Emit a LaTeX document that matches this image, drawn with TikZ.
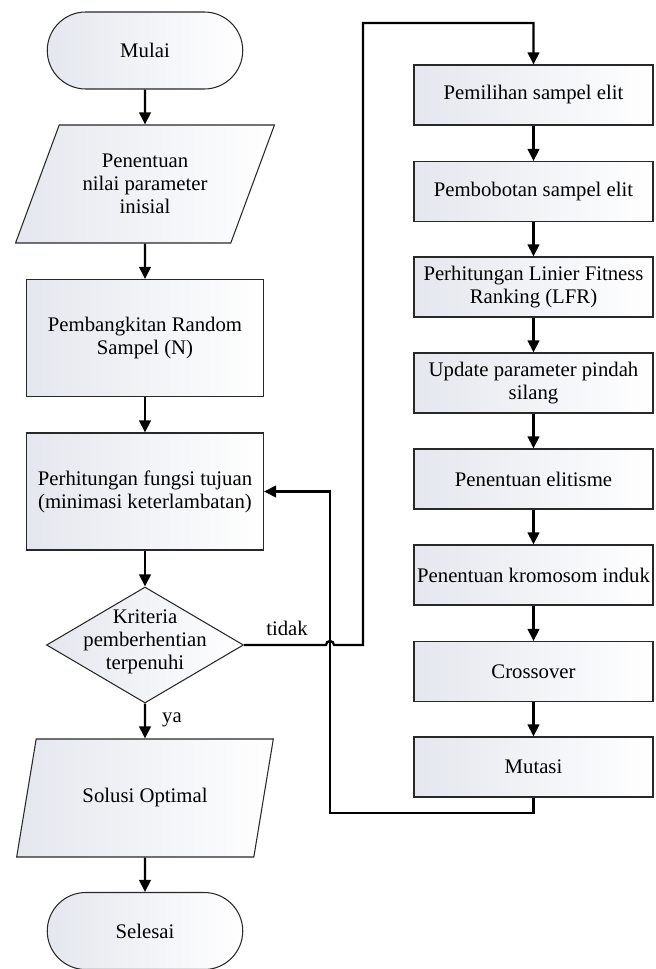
\documentclass[tikz,border=0pt]{standalone}
\usepackage{fontspec}
\setmainfont{Liberation Serif}
\usepackage{tikz}
\usetikzlibrary{arrows.meta,shapes.geometric,shapes.misc}
\definecolor{flowgray}{RGB}{228,231,238}
\definecolor{flowline}{RGB}{40,40,40}

\begin{document}
\begin{tikzpicture}[
  font=\fontsize{11.8pt}{13.1pt}\selectfont,
  proc/.style={draw=flowline, line width=0.6pt, left color=flowgray, right color=white, align=center, inner sep=1pt},
  term/.style={proc, rounded rectangle, minimum width=3.98cm, minimum height=1.54cm},
  io/.style={proc, trapezium, trapezium left angle=62.7, trapezium right angle=117.3, trapezium stretches=true, minimum width=5.18cm, minimum height=2.36cm},
  bigbox/.style={proc, rectangle, minimum width=4.74cm, minimum height=2.34cm},
  smallbox/.style={proc, rectangle, minimum width=4.78cm, minimum height=1.2cm},
  decide/.style={proc, diamond, minimum width=3.94cm, minimum height=2.32cm, inner sep=0pt},
  flow/.style={-{Triangle[length=2.4mm,width=2.3mm]}, line width=1.3pt}
  ]
  \useasboundingbox (0,0) rectangle (13.1,-19.38);

  % main column
  \node[term] (mulai) at (2.9,-1.01) {Mulai};
  \node[io] (init) at (2.9,-3.68) {Penentuan\\nilai parameter\\inisial};
  \node[bigbox] (bangkit) at (2.9,-6.76) {Pembangkitan Random\\Sampel (N)};
  \node[bigbox] (hitung) at (2.9,-9.83) {Perhitungan fungsi tujuan\\(minimasi keterlambatan)};
  \node[decide] (cek) at (2.9,-12.9) {\raisebox{-3pt}{\makebox[0pt]{\smash{\begin{tabular}[c]{@{}c@{}}Kriteria\\pemberhentian\\terpenuhi\end{tabular}}}}};
  \node[io] (solusi) at (2.9,-15.96) {Solusi Optimal};
  \node[term] (selesai) at (2.9,-18.62) {Selesai};

  % loop column
  \node[smallbox] (pilih) at (10.67,-1.9) {Pemilihan sampel elit};
  \node[smallbox] (bobot) at (10.67,-3.83) {Pembobotan sampel elit};
  \node[smallbox] (lfr) at (10.67,-5.74) {Perhitungan Linier Fitness\\Ranking (LFR)};
  \node[smallbox] (update) at (10.67,-7.66) {Update parameter pindah\\silang};
  \node[smallbox] (elit) at (10.67,-9.58) {Penentuan elitisme};
  \node[smallbox] (induk) at (10.67,-11.5) {Penentuan kromosom induk};
  \node[smallbox] (cross) at (10.67,-13.43) {Crossover};
  \node[smallbox] (mutasi) at (10.67,-15.34) {Mutasi};

  \node (tidak) at (5.74,-12.56) {tidak};
  \node (ya) at (3.44,-14.4) {ya};

  \coordinate (jump) at (6.6,-12.9);
  \coordinate (loopup) at (7.26,-12.9);
  \coordinate (looptop) at (7.26,-0.46);
  \coordinate (loopbot) at (6.6,-16.26);

  \draw[flow] (mulai) -- (init);
  \draw[flow] (init) -- (bangkit);
  \draw[flow] (bangkit) -- (hitung);
  \draw[flow] (hitung) -- (cek);
  \draw[flow] (cek) -- (solusi);
  \draw[flow] (solusi) -- (selesai);

  \draw[flow] (pilih) -- (bobot);
  \draw[flow] (bobot) -- (lfr);
  \draw[flow] (lfr) -- (update);
  \draw[flow] (update) -- (elit);
  \draw[flow] (elit) -- (induk);
  \draw[flow] (induk) -- (cross);
  \draw[flow] (cross) -- (mutasi);

  % tidak: back into the loop, hopping over the return line
  \draw[flow] (cek.east) -- ([xshift=-0.08cm]jump) arc[start angle=180, end angle=0, radius=0.08cm] -- (loopup) -- (looptop) -| (pilih.north);
  \draw[flow] (mutasi.south) |- (loopbot) |- (hitung.east);
\end{tikzpicture}
\end{document}
